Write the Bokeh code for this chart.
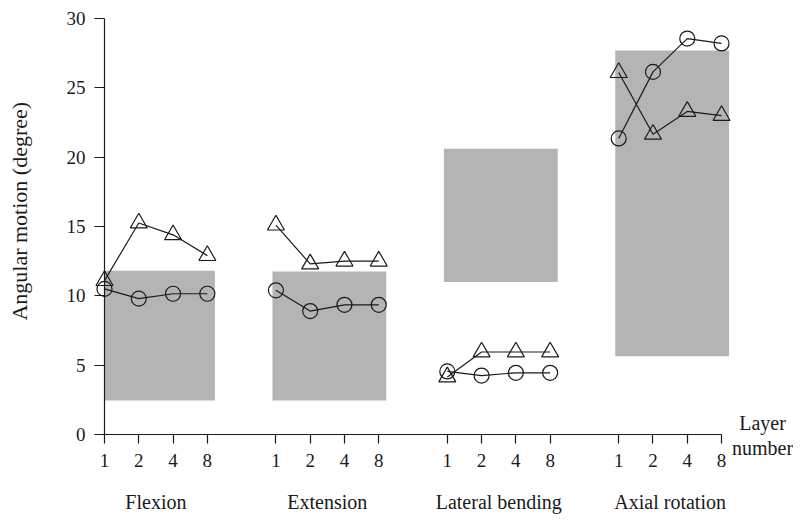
import math
from bokeh.plotting import figure
from bokeh.models import FixedTicker, LinearAxis, Label, Range1d
from bokeh.embed import file_html
from bokeh.resources import INLINE

# ---- data ----
groups = ["Flexion", "Extension", "Lateral bending", "Axial rotation"]
layers = ["1", "2", "4", "8"]
triangle_vals = [
    [11.1, 15.25, 14.4, 12.9],
    [15.1, 12.3, 12.5, 12.5],
    [4.15, 5.95, 5.95, 5.95],
    [26.1, 21.65, 23.3, 23.0],
]
circle_vals = [
    [10.5, 9.8, 10.15, 10.15],
    [10.4, 8.9, 9.35, 9.35],
    [4.55, 4.25, 4.45, 4.45],
    [21.35, 26.15, 28.55, 28.2],
]
range_low = [2.45, 2.45, 11.0, 5.65]
range_high = [11.8, 11.75, 20.6, 27.7]
y_ticks = [0, 5, 10, 15, 20, 25, 30]
y_title = "Angular motion (degree)"
x_title = ["Layer", "number"]

FONT = "Liberation Serif"
BOX = "#b4b4b4"
INK = "#1a1a1a"

slot = len(layers) + 1
offsets = [g * slot for g in range(len(groups))]
n_last = offsets[-1] + len(layers) - 1

W, H = 793, 514
PX_X = 34.28   # pixels per x unit
PX_Y = 13.867  # pixels per y unit
X0, Y0 = 104, 434  # where data (0, 0) sits on the canvas

p = figure(
    frame_width=W, frame_height=H,
    x_range=Range1d(-X0 / PX_X, (W - X0) / PX_X),
    y_range=Range1d(-(H - Y0) / PX_Y, Y0 / PX_Y),
    output_backend="svg", toolbar_location=None,
    min_border=0,
)
p.grid.visible = False
p.outline_line_color = None
p.background_fill_color = "white"
p.border_fill_color = "white"

# grey ranges
p.quad(left=[max(o - 0.1, 0) for o in offsets], right=[o + 3.22 for o in offsets],
       bottom=range_low, top=range_high, fill_color=BOX, line_color=None)

for g, o in enumerate(offsets):
    xs = [o + i for i in range(len(layers))]
    p.line(xs, triangle_vals[g], line_color=INK, line_width=1.2)
    p.line(xs, circle_vals[g], line_color=INK, line_width=1.2)
    p.scatter(xs, triangle_vals[g], marker="triangle", size=17, fill_color=None,
              line_color=INK, line_width=1.2)
    p.scatter(xs, circle_vals[g], marker="circle", size=15, fill_color=None,
              line_color=INK, line_width=1.2)

# x axis: layer numbers
tick_pos = []
tick_lab = {}
for o in offsets:
    for i, lab in enumerate(layers):
        tick_pos.append(o + i)
        tick_lab[o + i] = lab
xa = p.xaxis[0]
xa.fixed_location = 0
xa.ticker = FixedTicker(ticks=tick_pos)
xa.major_label_overrides = tick_lab
xa.bounds = (0, n_last)
xa.minor_tick_line_color = None
xa.major_tick_in = 0
xa.major_tick_out = 9
xa.major_label_standoff = 10
xa.axis_line_color = INK
xa.axis_line_width = 1.2
xa.major_tick_line_color = INK
xa.major_tick_line_width = 1.2
xa.major_label_text_font = FONT
xa.major_label_text_font_size = "19px"
xa.major_label_text_color = INK

# second axis: group names
centers = [o + (len(layers) - 1) / 2 for o in offsets]
ga = LinearAxis(ticker=FixedTicker(ticks=centers), fixed_location=0,
                major_label_overrides={c: n for c, n in zip(centers, groups)})
ga.axis_line_color = None
ga.major_tick_line_color = None
ga.minor_tick_line_color = None
ga.major_tick_out = 0
ga.major_tick_in = 0
ga.major_label_standoff = 56
ga.major_label_text_font = FONT
ga.major_label_text_font_size = "20px"
ga.major_label_text_color = INK
p.add_layout(ga, "below")

# y axis
ya = p.yaxis[0]
ya.fixed_location = 0
ya.ticker = FixedTicker(ticks=y_ticks)
ya.bounds = (0, 30)
ya.minor_tick_line_color = None
ya.major_tick_in = 0
ya.major_tick_out = 10
ya.major_label_standoff = 9
ya.axis_line_color = INK
ya.axis_line_width = 1.2
ya.major_tick_line_color = INK
ya.major_tick_line_width = 1.2
ya.major_label_text_font = FONT
ya.major_label_text_font_size = "19px"
ya.major_label_text_color = INK

# axis titles as annotations (placed like the reference)
p.add_layout(Label(x=-85 / PX_X, y=16.1, text=y_title, angle=math.pi / 2,
                   text_align="center", text_baseline="middle", text_font=FONT,
                   text_font_size="22px", text_color=INK))
for txt, yy in zip(x_title, (0.8, -1.0)):
    p.add_layout(Label(x=n_last + 41 / PX_X, y=yy, text=txt, text_align="center",
                       text_baseline="middle", text_font=FONT,
                       text_font_size="20px", text_color=INK))

open("out.html", "w").write(file_html(p, INLINE))
